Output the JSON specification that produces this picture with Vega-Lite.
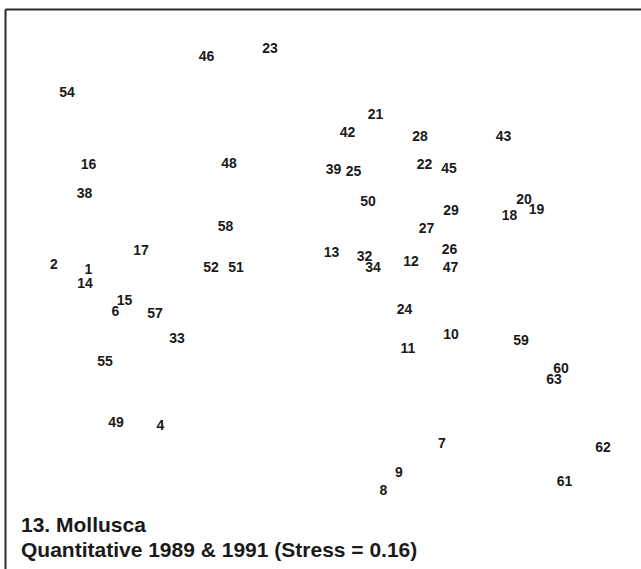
{
  "$schema": "https://vega.github.io/schema/vega-lite/v6.json",
  "autosize": {"type": "none"},
  "padding": {"left": 5, "top": 9, "right": 0, "bottom": 0},
  "width": 636,
  "height": 560,
  "background": "white",
  "config": {"view": {"stroke": null}},
  "title": {
    "text": ["13. Mollusca", "Quantitative 1989 & 1991 (Stress = 0.16)"],
    "orient": "bottom",
    "anchor": "start",
    "frame": "group",
    "offset": -54,
    "dx": 16,
    "font": "Liberation Sans",
    "fontSize": 21,
    "fontWeight": "bold",
    "color": "#1a1a1a",
    "lineHeight": 25,
    "baseline": "top"
  },
  "data": {"values": [
    {"id": "46", "x": 206.5, "y": 55.5},
    {"id": "23", "x": 270, "y": 47.5},
    {"id": "54", "x": 67, "y": 92},
    {"id": "16", "x": 88.5, "y": 164},
    {"id": "48", "x": 229, "y": 163},
    {"id": "38", "x": 84.5, "y": 192.5},
    {"id": "58", "x": 225.5, "y": 225.5},
    {"id": "17", "x": 141, "y": 249.5},
    {"id": "2", "x": 54, "y": 264},
    {"id": "1", "x": 88.5, "y": 269},
    {"id": "14", "x": 85, "y": 283},
    {"id": "52", "x": 211, "y": 267},
    {"id": "51", "x": 236, "y": 267},
    {"id": "21", "x": 375.5, "y": 113.5},
    {"id": "42", "x": 347.5, "y": 132},
    {"id": "28", "x": 420, "y": 136},
    {"id": "43", "x": 503.5, "y": 136},
    {"id": "39", "x": 333.5, "y": 168.5},
    {"id": "25", "x": 353.5, "y": 170.5},
    {"id": "22", "x": 424.5, "y": 163.5},
    {"id": "45", "x": 449, "y": 167.5},
    {"id": "50", "x": 368, "y": 200.5},
    {"id": "29", "x": 451, "y": 209.5},
    {"id": "20", "x": 524, "y": 198.5},
    {"id": "19", "x": 536.5, "y": 208.5},
    {"id": "18", "x": 509.5, "y": 215},
    {"id": "27", "x": 426.5, "y": 227.5},
    {"id": "13", "x": 331.5, "y": 251.5},
    {"id": "32", "x": 364.5, "y": 255.5},
    {"id": "34", "x": 373, "y": 267},
    {"id": "12", "x": 411, "y": 260.5},
    {"id": "26", "x": 449.5, "y": 249},
    {"id": "47", "x": 450.5, "y": 267},
    {"id": "15", "x": 124.5, "y": 300},
    {"id": "6", "x": 115.5, "y": 311},
    {"id": "57", "x": 155, "y": 312.5},
    {"id": "33", "x": 177, "y": 337.5},
    {"id": "55", "x": 105, "y": 360.5},
    {"id": "49", "x": 116, "y": 421.5},
    {"id": "4", "x": 160.5, "y": 425},
    {"id": "24", "x": 404.5, "y": 308.5},
    {"id": "10", "x": 451, "y": 333.5},
    {"id": "11", "x": 408, "y": 347.5},
    {"id": "59", "x": 521, "y": 339.5},
    {"id": "60", "x": 561, "y": 367.5},
    {"id": "63", "x": 554, "y": 379},
    {"id": "7", "x": 442, "y": 442.5},
    {"id": "62", "x": 603, "y": 446.5},
    {"id": "9", "x": 399, "y": 472},
    {"id": "61", "x": 564.5, "y": 480.5},
    {"id": "8", "x": 383.5, "y": 489.5}
  ]},
  "mark": {
    "type": "text",
    "font": "Liberation Sans",
    "fontSize": 14,
    "fontWeight": "bold",
    "align": "center",
    "baseline": "middle",
    "dy": 1,
    "color": "#1a1a1a"
  },
  "encoding": {
    "x": {
      "field": "x", "type": "quantitative",
      "scale": {"domain": [5, 641], "nice": false, "zero": false},
      "axis": {"orient": "top", "title": null, "labels": false, "ticks": false, "grid": false, "domain": true, "domainWidth": 2, "domainColor": "#2b2b2b"}
    },
    "y": {
      "field": "y", "type": "quantitative",
      "scale": {"domain": [9, 569], "reverse": true, "nice": false, "zero": false},
      "axis": {"orient": "left", "title": null, "labels": false, "ticks": false, "grid": false, "domain": true, "domainWidth": 2, "domainColor": "#2b2b2b"}
    },
    "text": {"field": "id"}
  }
}
